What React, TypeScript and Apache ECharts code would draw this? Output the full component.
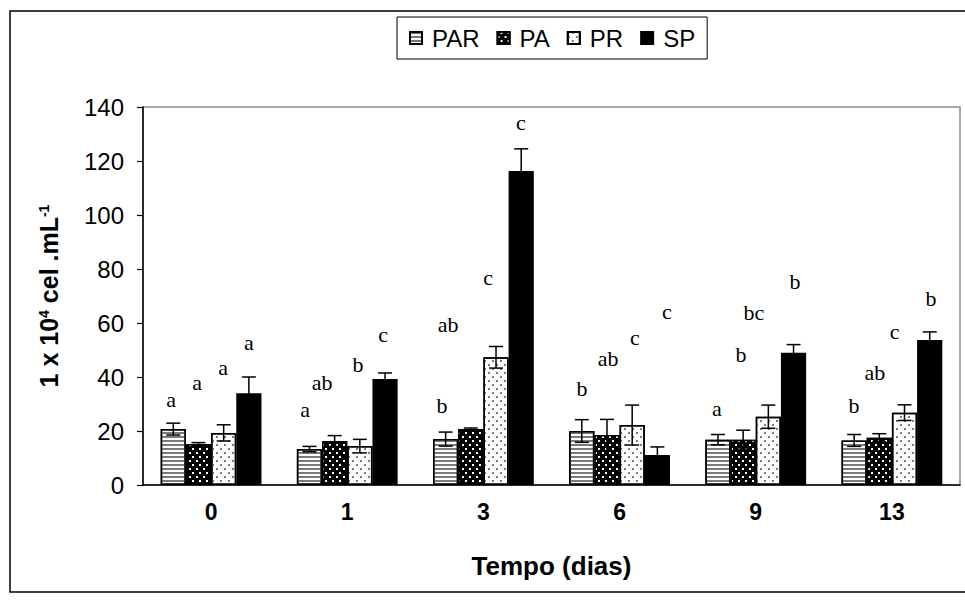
import React, { useEffect, useRef } from "react";
import * as echarts from "echarts";

const categories = ["0", "1", "3", "6", "9", "13"];
const seriesNames = ["PAR", "PA", "PR", "SP"];

const PAR = [20.7, 13.3, 17, 20, 16.8, 16.5];
const PA = [15.2, 16.3, 20.7, 18.5, 16.8, 17.5];
const PR = [19.3, 14.4, 47.3, 22.2, 25.3, 26.8];
const SP = [34, 39.3, 116.3, 11.1, 49, 53.7];

const PAR_ERR = [2.2, 1, 2.6, 4.2, 1.9, 2.2];
const PA_ERR = [0.5, 2, 0.4, 5.8, 3.5, 1.5];
const PR_ERR = [3, 2.5, 4, 7.4, 4.3, 2.9];
const SP_ERR = [6, 2.2, 8.2, 3, 3, 3];

// significance letters and where they sit (x in category units 0..6, y in axis units)
const PAR_LET = ["a", "a", "b", "b", "a", "b"];
const PA_LET = ["a", "ab", "ab", "ab", "b", "ab"];
const PR_LET = ["a", "b", "c", "c", "bc", "c"];
const SP_LET = ["a", "c", "c", "c", "b", "b"];

const PAR_LX = [0.206, 1.19, 2.196, 3.224, 4.215, 5.221];
const PA_LX = [0.397, 1.315, 2.24, 3.415, 4.391, 5.375];
const PR_LX = [0.588, 1.579, 2.534, 3.613, 4.487, 5.52];
const SP_LX = [0.778, 1.763, 2.776, 3.848, 4.788, 5.787];

const PAR_LY = [31.8, 28.1, 29.3, 35.9, 28.5, 29.3];
const PA_LY = [37.8, 37.8, 59.3, 47, 48.5, 41.5];
const PR_LY = [43.7, 44.8, 77, 54.8, 64, 56.7];
const SP_LY = [52.6, 55.6, 134.4, 64.4, 75.2, 68.9];

const Y_TICKS = [0, 20, 40, 60, 80, 100, 120, 140];

const values = [PAR, PA, PR, SP];
const errors = [PAR_ERR, PA_ERR, PR_ERR, SP_ERR];
const letters = [PAR_LET, PA_LET, PR_LET, SP_LET];
const letterX = [PAR_LX, PA_LX, PR_LX, SP_LX];
const letterY = [PAR_LY, PA_LY, PR_LY, SP_LY];

const CAT_GAP = 0.26;
const SANS = '"Liberation Sans", Arial, sans-serif';

const styles = [
  {
    color: "#ffffff",
    decal: {
      symbol: "rect",
      symbolSize: 1,
      color: "#7a7a7a",
      dashArrayX: [1, 0],
      dashArrayY: [2, 1.2],
      rotation: 0,
    },
  },
  {
    color: "#000000",
    decal: {
      symbol: "rect",
      symbolSize: 1,
      color: "#ffffff",
      dashArrayX: [
        [1.3, 4.2],
        [0, 2.75, 1.3, 1.45],
      ],
      dashArrayY: [1.3, 1.6],
      rotation: 0,
    },
  },
  {
    color: "#ffffff",
    decal: {
      symbol: "rect",
      symbolSize: 1,
      color: "#7a7a7a",
      dashArrayX: [
        [1.5, 5.5],
        [0, 3.5, 1.5, 2],
      ],
      dashArrayY: [1.5, 2],
      rotation: 0,
    },
  },
  { color: "#000000", decal: null },
];

export default function App() {
  const ref = useRef<HTMLDivElement>(null);

  useEffect(() => {
    if (!ref.current) return;
    const chart = echarts.init(ref.current, null, { renderer: "svg" });

    const barSeries = seriesNames.map((name, s) => ({
      name,
      type: "bar",
      xAxisIndex: 0,
      yAxisIndex: 0,
      data: values[s],
      barGap: "0%",
      barCategoryGap: CAT_GAP * 100 + "%",
      itemStyle: {
        color: styles[s].color,
        decal: styles[s].decal || undefined,
        borderColor: "#000",
        borderWidth: 1.5,
      },
      z: 2,
    }));

    const errData: any[] = [];
    seriesNames.forEach((_, s) => {
      values[s].forEach((v, i) => {
        errData.push([i, v - errors[s][i], v + errors[s][i], s]);
      });
    });

    const errSeries = {
      type: "custom",
      name: "err",
      xAxisIndex: 0,
      yAxisIndex: 0,
      data: errData,
      z: 5,
      silent: true,
      renderItem: (params: any, api: any) => {
        const i = api.value(0);
        const lo = api.value(1);
        const hi = api.value(2);
        const s = api.value(3);
        const band = api.size([1, 0])[0];
        const bw = (band * (1 - CAT_GAP)) / 4;
        const pLo = api.coord([i, lo]);
        const pHi = api.coord([i, hi]);
        const x = pLo[0] + (s - 1.5) * bw;
        const cap = 7;
        const st = { stroke: "#000", lineWidth: 1.5 };
        return {
          type: "group",
          children: [
            { type: "line", shape: { x1: x, y1: pLo[1], x2: x, y2: pHi[1] }, style: st },
            { type: "line", shape: { x1: x - cap, y1: pHi[1], x2: x + cap, y2: pHi[1] }, style: st },
            { type: "line", shape: { x1: x - cap, y1: pLo[1], x2: x + cap, y2: pLo[1] }, style: st },
          ],
        };
      },
    };

    const letData: any[] = [];
    seriesNames.forEach((_, s) => {
      letters[s].forEach((t, i) => {
        letData.push([letterX[s][i], letterY[s][i], t]);
      });
    });

    const letSeries = {
      type: "custom",
      name: "letters",
      xAxisIndex: 1,
      yAxisIndex: 0,
      data: letData,
      z: 6,
      silent: true,
      renderItem: (params: any, api: any) => {
        const p = api.coord([api.value(0), api.value(1)]);
        const t = letData[params.dataIndex][2];
        return {
          type: "text",
          x: p[0],
          y: p[1],
          style: {
            text: t,
            fill: "#000",
            font: '22px "Liberation Serif", "Times New Roman", serif',
            align: "center",
            verticalAlign: "middle",
          },
        };
      },
    };

    const option: any = {
      animation: false,
      backgroundColor: "#ffffff",
      aria: { enabled: false, decal: { show: false } },
      graphic: [
        {
          type: "rect",
          shape: { x: 10, y: 11, width: 1000, height: 581 },
          style: { fill: "none", stroke: "#000", lineWidth: 1.5 },
          z: -1,
          silent: true,
        },
      ],
      legend: {
        data: seriesNames,
        left: 397,
        top: 17,
        padding: [9, 12, 9, 12],
        itemWidth: 12,
        itemHeight: 12,
        itemGap: 17,
        borderColor: "#000",
        borderWidth: 1,
        icon: "rect",
        textStyle: {
          fontSize: 24,
          color: "#000",
          fontFamily: SANS,
          padding: [0, 0, 0, 5],
        },
      },
      grid: {
        left: 143,
        top: 107,
        right: 5,
        bottom: 122,
        show: true,
        borderColor: "#8c8c8c",
        borderWidth: 1.5,
        backgroundColor: "transparent",
      },
      xAxis: [
        {
          type: "category",
          data: categories,
          axisLine: { lineStyle: { color: "#000", width: 1.5 } },
          axisTick: { length: 6, lineStyle: { color: "#000", width: 1.2 } },
          axisLabel: {
            fontSize: 23,
            fontWeight: "bold",
            color: "#000",
            margin: 15,
            fontFamily: SANS,
          },
          name: "Tempo (dias)",
          nameLocation: "middle",
          nameGap: 68,
          nameTextStyle: {
            fontSize: 26,
            fontWeight: "bold",
            color: "#000",
            fontFamily: SANS,
          },
        },
        {
          type: "value",
          min: 0,
          max: 6,
          show: false,
        },
      ],
      yAxis: [
        {
          type: "value",
          min: Y_TICKS[0],
          max: Y_TICKS[Y_TICKS.length - 1],
          interval: Y_TICKS[1] - Y_TICKS[0],
          splitLine: { show: false },
          axisLine: { show: true, lineStyle: { color: "#000", width: 1.5 } },
          axisTick: { show: true, length: 6, lineStyle: { color: "#000", width: 1.2 } },
          axisLabel: {
            fontSize: 24,
            color: "#000",
            margin: 19,
            fontFamily: SANS,
          },
          name: "{b|1 x 10}{s|4}{b| cel .mL}{s|-1}",
          nameLocation: "middle",
          nameGap: 82,
          nameTextStyle: {
            rich: {
              b: {
                fontSize: 25,
                fontWeight: "bold",
                color: "#000",
                fontFamily: SANS,
              },
              s: {
                fontSize: 14,
                fontWeight: "bold",
                color: "#000",
                fontFamily: SANS,
                padding: [0, 0, 10, 0],
              },
            },
          },
        },
      ],
      series: [...barSeries, errSeries, letSeries],
    };

    chart.setOption(option);
    return () => chart.dispose();
  }, []);

  return (
    <div
      ref={ref}
      style={{ position: "absolute", left: 0, top: 0, width: 965, height: 607 }}
    />
  );
}
